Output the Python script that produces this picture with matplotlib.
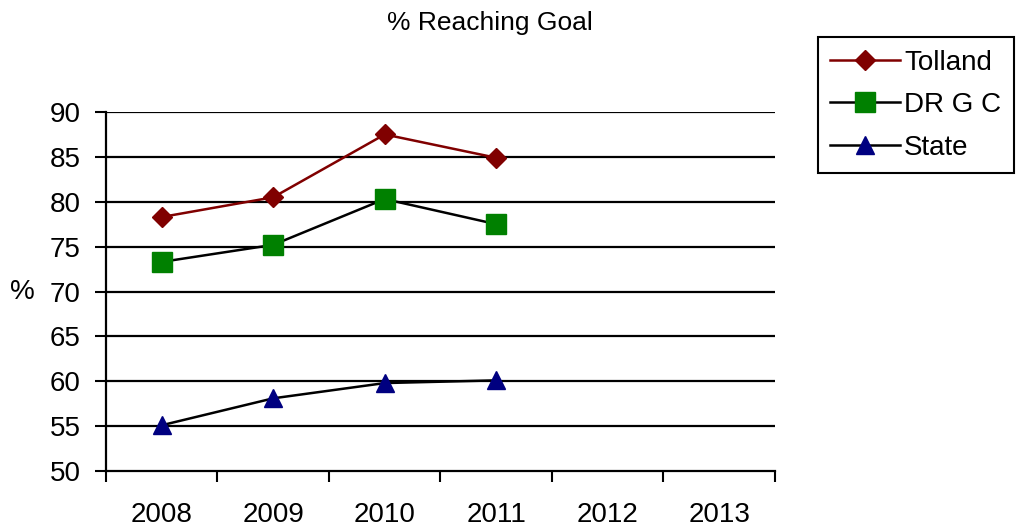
import matplotlib.pyplot as plt
from matplotlib.ticker import FixedLocator, NullFormatter

plt.rcParams['font.family'] = ['Liberation Sans', 'DejaVu Sans']

years = ['2008', '2009', '2010', '2011', '2012', '2013']
tolland = [78.3, 80.5, 87.5, 84.9]
drgc = [73.3, 75.2, 80.3, 77.5]
state = [55.1, 58.1, 59.8, 60.1]
y_ticks = [50, 55, 60, 65, 70, 75, 80, 85, 90]

fig = plt.figure(figsize=(10.16, 5.29), dpi=100)
ax = fig.add_axes([0.1043, 0.1096, 0.6585, 0.6787])

x = range(len(tolland))
ax.plot(x, tolland, color='#800000', lw=1.8, marker='D', ms=10,
        mfc='#800000', mec='#800000', label='Tolland', zorder=4)
ax.plot(x, drgc, color='black', lw=1.8, marker='s', ms=15,
        mfc='#008000', mec='#008000', label='DR G C', zorder=4)
ax.plot(x, state, color='black', lw=1.8, marker='^', ms=13,
        mfc='#000080', mec='#000080', label='State', zorder=4)

ax.set_xlim(-0.5, len(years) - 0.5)
ax.set_ylim(50, 90)

# category labels at centres, tick marks on the boundaries
ax.xaxis.set_major_locator(FixedLocator([i - 0.5 for i in range(len(years) + 1)]))
ax.xaxis.set_major_formatter(NullFormatter())
ax.xaxis.set_minor_locator(FixedLocator(list(range(len(years)))))
ax.set_xticklabels(years, minor=True)
ax.tick_params(axis='x', which='major', direction='out', length=8, width=1.5)
ax.tick_params(axis='x', which='minor', length=0, pad=22, labelsize=20)

ax.set_yticks(y_ticks)
ax.tick_params(axis='y', direction='out', length=8, width=1.5, labelsize=20, pad=10)

for v in y_ticks[1:]:
    ax.axhline(v, color='black', lw=1.6, zorder=1)

for s in ['top', 'right']:
    ax.spines[s].set_visible(False)
for s in ['left', 'bottom']:
    ax.spines[s].set_linewidth(1.6)

ax.set_ylabel('%', rotation=0, fontsize=20, labelpad=20, va='center')
fig.text(0.482, 0.957, '% Reaching Goal', ha='center', va='center', fontsize=19)

leg = fig.legend(loc='upper left', bbox_to_anchor=(0.805, 0.93), fontsize=20,
                 frameon=True, fancybox=False, framealpha=1, edgecolor='black',
                 handlelength=2.5, handletextpad=0.15, borderpad=0.45,
                 labelspacing=0.6, borderaxespad=0)
leg.get_frame().set_linewidth(1.5)

fig.savefig('out.png', dpi=100)
